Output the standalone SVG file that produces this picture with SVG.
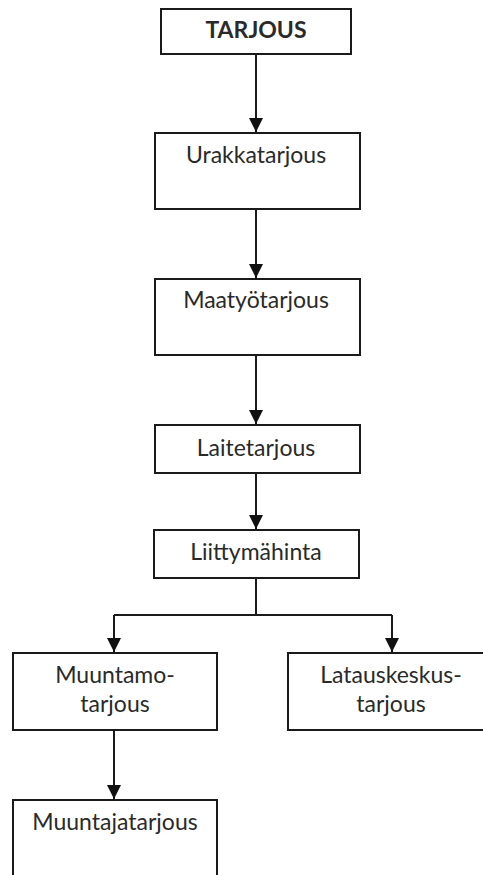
<svg xmlns="http://www.w3.org/2000/svg" width="483" height="875" viewBox="0 0 483 875">
<style>
.box{fill:#fff;stroke:#1a1a1a;stroke-width:2}
.t{font-family:Lato,"Open Sans",sans-serif;font-size:23px;fill:#2a2a2a;text-anchor:middle}
.b{font-weight:bold}
.c{fill:none;stroke:#1a1a1a;stroke-width:2;marker-end:url(#ah)}
.l{fill:none;stroke:#1a1a1a;stroke-width:2}
</style>
<defs>
<marker id="ah" markerUnits="userSpaceOnUse" markerWidth="14" markerHeight="14" viewBox="0 0 14 14" refX="14" refY="7" orient="auto">
<path d="M0,0 L14,7 L0,14 Z" fill="#111"/>
</marker>
</defs>
<rect width="483" height="875" fill="#fff"/>
<g id="connectors">
<path class="c" d="M256,54 V132"/>
<path class="c" d="M256,209 V278"/>
<path class="c" d="M256,355 V424"/>
<path class="c" d="M256,473 V529"/>
<path class="l" d="M256,578 V615 M114,615 H392"/>
<path class="c" d="M114,615 V652"/>
<path class="c" d="M392,615 V652"/>
<path class="c" d="M114,730 V799"/>
</g>
<g id="tarjous"><rect class="box" x="161" y="9" width="190" height="45"/><text class="t b" x="256" y="38">TARJOUS</text></g>
<g id="urakkatarjous"><rect class="box" x="155" y="133" width="205" height="76"/><text class="t" x="256" y="163">Urakkatarjous</text></g>
<g id="maatyotarjous"><rect class="box" x="155" y="279" width="205" height="76"/><text class="t" x="256" y="308">Maatyötarjous</text></g>
<g id="laitetarjous"><rect class="box" x="155" y="425" width="205" height="48"/><text class="t" x="256" y="456">Laitetarjous</text></g>
<g id="liittymahinta"><rect class="box" x="154" y="530" width="205" height="48"/><text class="t" x="256" y="560">Liittymähinta</text></g>
<g id="muuntamotarjous"><rect class="box" x="13" y="653" width="204" height="77"/><text class="t" x="115" y="683">Muuntamo-</text><text class="t" x="115" y="712">tarjous</text></g>
<g id="latauskeskustarjous"><rect class="box" x="288" y="653" width="207" height="77"/><text class="t" x="391" y="683">Latauskeskus-</text><text class="t" x="391" y="712">tarjous</text></g>
<g id="muuntajatarjous"><rect class="box" x="13" y="800" width="204" height="85"/><text class="t" x="115" y="830">Muuntajatarjous</text></g>
</svg>
